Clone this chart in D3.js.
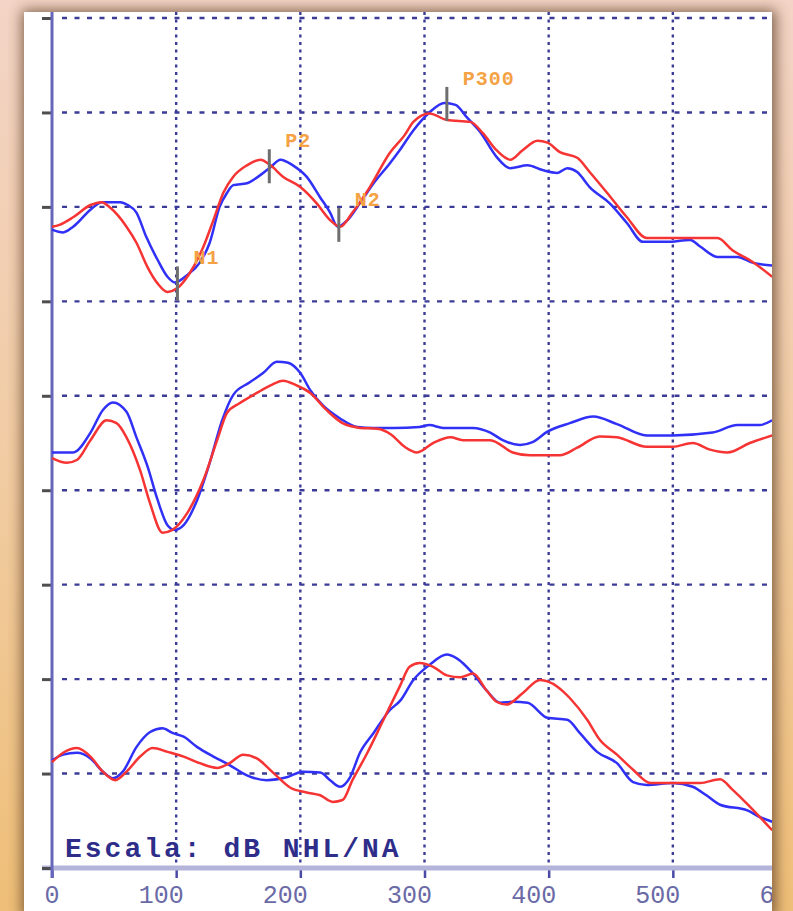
<!DOCTYPE html>
<html>
<head>
<meta charset="utf-8">
<script src="https://cdn.jsdelivr.net/npm/d3@7"></script>
<style>
  html, body { margin: 0; padding: 0; background: #f0c88a; }
  svg { display: block; }
</style>
</head>
<body>
<svg id="chart" width="793" height="911"></svg>
<script>
// Axis ticks: latency in ms, amplitude in grid units
const xTicks = [0, 100, 200, 300, 400, 500, 600];
const yTicks = [0, 10, 20, 30, 40, 50, 60, 70, 80, 90];

// Upper pair of waveforms  [ms, amplitude]
const topBlue = [[0,67.6],[9,67.3],[17,67.9],[31,69.7],[40,70.5],[55,70.5],[61,70.2],[68,69.4],[76,66.8],[85,64.4],[93,62.6],[99,62.0],[109,62.8],[119,64.1],[127,66.2],[135,70.0],[141,71.5],[146,72.3],[157,72.5],[165,73.1],[176,74.2],[184,75.0],[194,74.4],[205,73.2],[216,71.0],[224,69.4],[230,67.9],[238,68.6],[248,70.4],[259,72.5],[272,74.6],[280,76.0],[291,78.1],[304,80.0],[316,81.0],[325,80.8],[334,79.5],[345,77.9],[358,75.3],[369,74.1],[383,74.4],[395,73.9],[407,73.6],[415,74.1],[423,73.7],[433,72.1],[449,70.4],[463,68.3],[476,66.3],[495,66.3],[514,66.5],[522,65.8],[536,64.7],[552,64.7],[564,64.1],[580,63.8]];
const topRed = [[0,67.9],[6,68.1],[17,68.9],[31,70.2],[40,70.5],[47,69.9],[60,67.9],[68,66.2],[77,63.6],[85,61.9],[93,61.0],[101,61.4],[111,63.0],[122,65.8],[130,68.6],[138,71.5],[146,73.2],[157,74.4],[168,75.0],[176,74.4],[186,73.2],[200,72.1],[213,70.4],[224,68.6],[232,67.9],[242,69.4],[256,72.1],[272,75.7],[284,77.6],[291,79.0],[304,79.9],[318,79.2],[337,79.0],[347,77.8],[358,76.0],[369,75.0],[379,76.0],[391,77.0],[399,76.8],[409,75.8],[423,75.2],[433,73.7],[447,71.5],[463,68.9],[479,66.7],[495,66.7],[516,66.7],[536,66.7],[548,65.4],[564,64.2],[580,62.6]];

// Middle pair
const midBlue = [[0,44.0],[17,44.0],[31,46.1],[41,48.5],[49,49.3],[60,48.3],[68,45.6],[77,42.5],[85,39.0],[93,36.3],[99,35.8],[106,36.3],[117,39.0],[127,42.9],[137,47.4],[146,50.1],[159,51.4],[170,52.4],[181,53.6],[190,53.5],[200,52.4],[208,50.6],[218,49.0],[232,47.6],[246,46.7],[259,46.6],[275,46.6],[296,46.7],[304,46.9],[315,46.6],[339,46.6],[353,46.1],[363,45.3],[377,44.8],[387,45.1],[399,46.2],[417,47.1],[436,47.8],[455,47.0],[479,45.8],[500,45.8],[532,46.1],[552,46.9],[570,46.9],[580,47.4]];
const midRed = [[0,43.4],[12,42.9],[20,43.2],[31,45.3],[44,47.4],[52,47.1],[60,45.6],[71,42.1],[79,38.6],[89,35.5],[97,35.8],[109,37.6],[122,41.1],[133,45.3],[141,48.2],[151,49.2],[165,50.3],[176,51.1],[186,51.6],[197,51.1],[208,50.3],[221,48.5],[234,47.1],[248,46.6],[262,46.5],[273,45.9],[284,44.6],[294,44.0],[307,45.0],[321,45.6],[331,45.3],[353,45.3],[371,44.0],[385,43.7],[409,43.7],[423,44.5],[441,45.7],[455,45.6],[479,44.6],[500,44.6],[516,45.0],[530,44.3],[544,44.0],[562,45.0],[580,45.8]];

// Lower pair
const botBlue = [[0,11.4],[9,12.0],[20,12.2],[31,11.6],[41,10.2],[49,9.5],[57,10.2],[68,12.8],[79,14.4],[89,14.8],[97,14.3],[106,13.9],[117,12.8],[130,11.8],[143,10.9],[157,9.8],[173,9.3],[189,9.6],[202,10.2],[216,10.1],[224,9.3],[232,8.6],[240,9.6],[248,12.2],[259,14.3],[272,16.7],[281,17.8],[291,19.9],[304,21.5],[318,22.6],[326,22.2],[339,20.6],[350,18.8],[361,17.5],[371,17.6],[383,17.5],[399,15.9],[415,15.7],[425,14.3],[439,12.3],[455,11.1],[468,9.1],[479,8.8],[500,9.0],[516,8.6],[527,7.7],[538,6.7],[560,6.1],[570,5.4],[580,4.9]];
const botRed = [[0,11.2],[9,12.2],[20,12.7],[31,11.8],[41,10.2],[51,9.3],[60,10.2],[71,11.8],[81,12.7],[93,12.3],[106,11.8],[119,11.1],[133,10.6],[143,11.1],[154,12.0],[165,11.6],[178,10.1],[192,8.5],[205,8.0],[216,7.7],[226,7.0],[234,7.2],[242,9.3],[254,12.2],[267,15.7],[280,19.2],[288,21.3],[296,21.7],[307,21.3],[318,20.4],[329,20.2],[339,20.6],[350,18.8],[358,17.6],[366,17.3],[379,18.5],[393,19.9],[407,19.2],[417,18.0],[431,15.7],[441,13.6],[455,12.0],[468,10.4],[482,9.0],[500,9.0],[522,9.0],[538,9.4],[548,8.3],[562,6.5],[580,4.0]];

// Peak markers on the upper pair
const markerLabels = ["N1", "P2", "N2", "P300"];
const markerLatency = [101, 175, 231, 318];
const markerAmplitude = [61.9, 74.3, 68.1, 80.9];

const scaleLabel = "Escala: dB NHL/NA";

// ---------------------------------------------------------------
const W = 793, H = 911;
const panel = { x: 24, y: 12, w: 748, h: 899 };
const svg = d3.select("#chart");

const x = d3.scaleLinear().domain([0, 600]).range([52, 797]);
const y = d3.scaleLinear().domain([0, 90]).range([868, 18]);

const defs = svg.append("defs");
const bg = defs.append("linearGradient").attr("id", "bgGrad")
  .attr("x1", 0).attr("y1", 0).attr("x2", 0).attr("y2", 1);
bg.append("stop").attr("offset", "0%").attr("stop-color", "#f3d4c6");
bg.append("stop").attr("offset", "55%").attr("stop-color", "#f1cba0");
bg.append("stop").attr("offset", "100%").attr("stop-color", "#efbf78");

defs.append("filter").attr("id", "shadow")
  .attr("x", "-10%").attr("y", "-10%").attr("width", "120%").attr("height", "120%")
  .append("feGaussianBlur").attr("stdDeviation", 7);

defs.append("clipPath").attr("id", "panelClip")
  .append("rect").attr("x", panel.x).attr("y", panel.y)
  .attr("width", panel.w).attr("height", panel.h);

// backdrop, panel shadow, white panel
svg.append("rect").attr("width", W).attr("height", H).attr("fill", "url(#bgGrad)");
svg.append("rect")
  .attr("x", panel.x - 2).attr("y", panel.y - 2)
  .attr("width", panel.w + 6).attr("height", panel.h + 10)
  .attr("fill", "#5a3a22").attr("opacity", 0.75)
  .attr("filter", "url(#shadow)");
svg.append("rect")
  .attr("x", panel.x).attr("y", panel.y)
  .attr("width", panel.w).attr("height", panel.h)
  .attr("fill", "#ffffff");

const g = svg.append("g").attr("clip-path", "url(#panelClip)");

const gridColor = "#3c3c98";

// horizontal dotted grid
g.append("g").selectAll("line")
  .data(yTicks.filter(d => d > 0))
  .join("line")
  .attr("x1", x(0) + 10).attr("x2", panel.x + panel.w)
  .attr("y1", d => y(d)).attr("y2", d => y(d))
  .attr("stroke", gridColor).attr("stroke-width", 2.4)
  .attr("stroke-dasharray", "5,7.5");

// vertical dotted grid
g.append("g").selectAll("line")
  .data(xTicks.filter(d => d > 0))
  .join("line")
  .attr("x1", d => x(d)).attr("x2", d => x(d))
  .attr("y1", panel.y).attr("y2", y(0))
  .attr("stroke", gridColor).attr("stroke-width", 2.4)
  .attr("stroke-dasharray", "3,4.5");

// x axis
const xAxis = g.append("g").attr("transform", `translate(0,${y(0)})`)
  .call(d3.axisBottom(x).tickValues(xTicks).tickSize(10).tickFormat(d3.format("d")));
xAxis.select(".domain").remove();
xAxis.selectAll(".tick line").attr("stroke", "#4a4aa6").attr("stroke-width", 2.5);
xAxis.selectAll(".tick text")
  .attr("text-anchor", "end").attr("x", 7).attr("y", 35).attr("dy", null)
  .attr("fill", "#6a6aa6")
  .style("font-family", "'Liberation Mono', 'DejaVu Sans Mono', monospace")
  .style("font-size", "25px");
g.append("line")
  .attr("x1", x(0) - 10).attr("x2", panel.x + panel.w)
  .attr("y1", y(0)).attr("y2", y(0))
  .attr("stroke", "#b4b4da").attr("stroke-width", 5);

// y axis: ticks only, plus a solid spine
const yAxis = g.append("g").attr("transform", `translate(${x(0)},0)`)
  .call(d3.axisLeft(y).tickValues(yTicks).tickSize(10).tickFormat(""));
yAxis.select(".domain").remove();
yAxis.selectAll(".tick line").attr("stroke", "#4e4e4e").attr("stroke-width", 3);
g.append("line")
  .attr("x1", x(0)).attr("x2", x(0))
  .attr("y1", panel.y).attr("y2", y(0) + 10)
  .attr("stroke", "#6666bc").attr("stroke-width", 3);

// scale caption
g.append("text")
  .attr("x", 65).attr("y", 857)
  .attr("fill", "#2e2e8a")
  .style("font-family", "'Liberation Mono', 'DejaVu Sans Mono', monospace")
  .style("font-weight", "bold").style("font-size", "28px")
  .style("letter-spacing", "3px")
  .text(scaleLabel);

// waveforms
const blue = "#3030f6", red = "#f63434";
const traces = [
  { data: topBlue, color: blue }, { data: topRed, color: red },
  { data: midBlue, color: blue }, { data: midRed, color: red },
  { data: botBlue, color: blue }, { data: botRed, color: red }
];
const line = d3.line().x(d => x(d[0])).y(d => y(d[1])).curve(d3.curveMonotoneX);
g.append("g").selectAll("path")
  .data(traces)
  .join("path")
  .attr("d", d => line(d.data))
  .attr("fill", "none")
  .attr("stroke", d => d.color)
  .attr("stroke-width", 2.5)
  .attr("stroke-linejoin", "round");

// peak markers and their labels
const markers = markerLabels.map((name, i) => ({ name, t: markerLatency[i], a: markerAmplitude[i] }));
const mk = g.append("g").selectAll("g").data(markers).join("g");
mk.append("line")
  .attr("x1", d => x(d.t)).attr("x2", d => x(d.t))
  .attr("y1", d => y(d.a) - 17).attr("y2", d => y(d.a) + 17)
  .attr("stroke", "#6e6e6e").attr("stroke-width", 3);
mk.append("text")
  .attr("x", d => x(d.t) + 16).attr("y", d => y(d.a) - 19)
  .attr("fill", "#f4a244")
  .style("font-family", "'Liberation Mono', 'DejaVu Sans Mono', monospace")
  .style("font-weight", "bold").style("font-size", "20px")
  .style("letter-spacing", "1px")
  .text(d => d.name);
</script>
</body>
</html>
